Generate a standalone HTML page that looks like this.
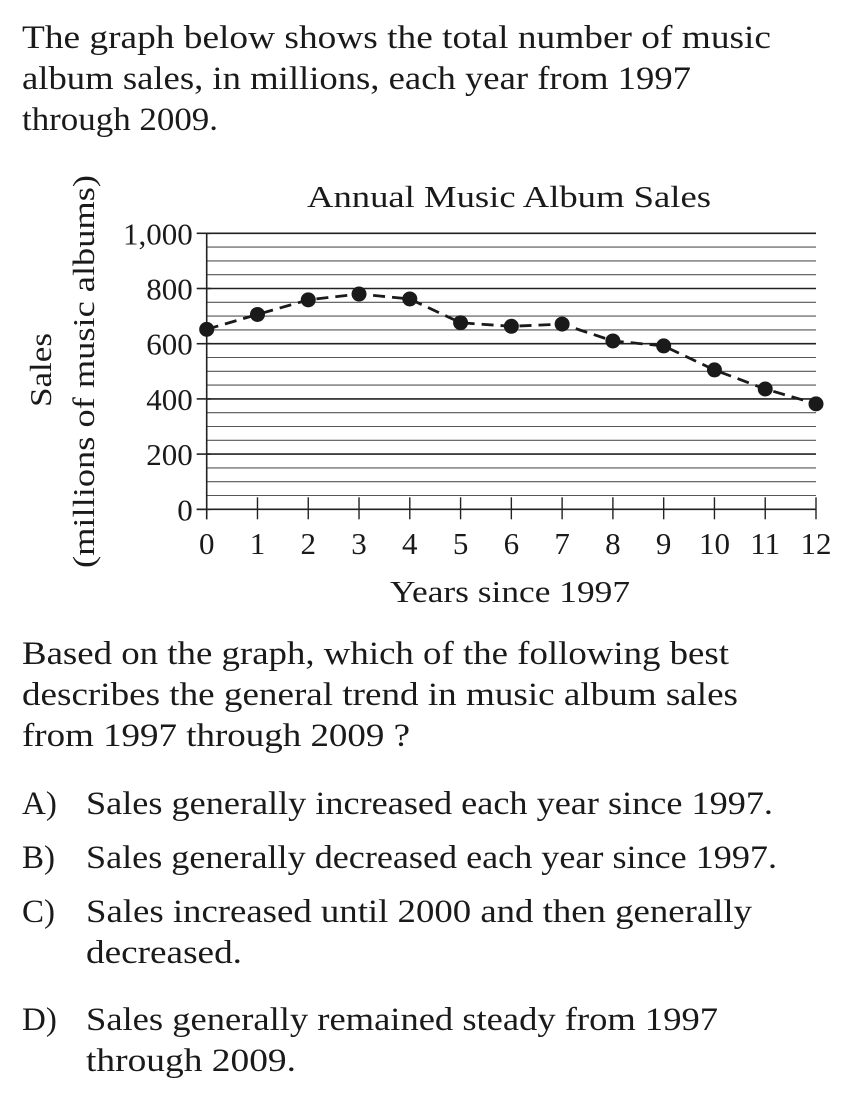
<!DOCTYPE html>
<html><head><meta charset="utf-8"><style>
body{margin:0;background:#fff;}
svg{display:block;font-family:"Liberation Serif",serif;fill:#1a1a1a;}
</style></head><body>
<svg id="page" width="852" height="1114" viewBox="0 0 852 1114" xmlns="http://www.w3.org/2000/svg">
<g font-size="33">
<text x="22" y="48" textLength="749" lengthAdjust="spacingAndGlyphs">The graph below shows the total number of music</text>
<text x="22" y="89" textLength="669" lengthAdjust="spacingAndGlyphs">album sales, in millions, each year from 1997</text>
<text x="22" y="130" textLength="196" lengthAdjust="spacingAndGlyphs">through 2009.</text>
</g>
<text x="307" y="207" font-size="31" textLength="404" lengthAdjust="spacingAndGlyphs">Annual Music Album Sales</text>
<text transform="translate(51,407) rotate(-90)" font-size="31" textLength="74" lengthAdjust="spacingAndGlyphs">Sales</text>
<text transform="translate(94,568) rotate(-90)" font-size="31" textLength="393" lengthAdjust="spacingAndGlyphs">(millions of music albums)</text>
<text x="390" y="602" font-size="31" textLength="240" lengthAdjust="spacingAndGlyphs">Years since 1997</text>
<g id="grid"></g>
<g id="axes"></g>
<g id="series"></g>
<g font-size="33">
<text x="22" y="664" textLength="707" lengthAdjust="spacingAndGlyphs">Based on the graph, which of the following best</text>
<text x="22" y="705" textLength="716" lengthAdjust="spacingAndGlyphs">describes the general trend in music album sales</text>
<text x="22" y="746" textLength="388" lengthAdjust="spacingAndGlyphs">from 1997 through 2009 ?</text>
</g>
<g font-size="33">
<g><text x="22" y="814">A)</text><text x="86" y="814" textLength="687" lengthAdjust="spacingAndGlyphs">Sales generally increased each year since 1997.</text></g>
<g><text x="22" y="868">B)</text><text x="86" y="868" textLength="691" lengthAdjust="spacingAndGlyphs">Sales generally decreased each year since 1997.</text></g>
<g><text x="22" y="922">C)</text><text x="86" y="922" textLength="666" lengthAdjust="spacingAndGlyphs">Sales increased until 2000 and then generally</text><text x="86" y="963" textLength="156" lengthAdjust="spacingAndGlyphs">decreased.</text></g>
<g><text x="22" y="1030">D)</text><text x="86" y="1030" textLength="632" lengthAdjust="spacingAndGlyphs">Sales generally remained steady from 1997</text><text x="86" y="1071" textLength="210" lengthAdjust="spacingAndGlyphs">through 2009.</text></g>
</g>
</svg>
<script>
const years = [0,1,2,3,4,5,6,7,8,9,10,11,12];
const sales = [652,706,759,780,762,676,663,671,610,592,505,436,382];
const yTicks = [0,200,400,600,800,1000];
const yTickLabels = ["0","200","400","600","800","1,000"];
const NS="http://www.w3.org/2000/svg";
const X0=206.7,X1=816,Y0=509.3,Y1=233.3;
const xs=v=>X0+(X1-X0)*v/12;
const ys=v=>Y0-(Y0-Y1)*v/1000;
function mk(tag,attrs,parent){const e=document.createElementNS(NS,tag);for(const k in attrs)e.setAttribute(k,attrs[k]);parent.appendChild(e);return e;}
const grid=document.getElementById('grid'),axes=document.getElementById('axes'),series=document.getElementById('series');
for(let v=50;v<=1000;v+=50){
  const major=v%200===0;
  const l=mk('line',{x1:X0,x2:X1,y1:ys(v),y2:ys(v),stroke:major?'#222':'#555','stroke-width':major?1.6:1.1},grid);
  
  
}
let a=mk('line',{x1:X0,x2:X0,y1:Y1,y2:Y0+10,stroke:'#222','stroke-width':1.6},axes);


a=mk('line',{x1:X0-10,x2:X1,y1:Y0,y2:Y0,stroke:'#222','stroke-width':1.6},axes);


yTicks.forEach((v,i)=>{
  const t=mk('line',{x1:X0-10,x2:X0+4,y1:ys(v),y2:ys(v),stroke:'#222','stroke-width':1.6},axes);
  
  
  const tx=mk('text',{x:X0-14,y:ys(v)+11,'font-size':31,'text-anchor':'end'},axes);
  tx.textContent=yTickLabels[i];
  
  
});
years.forEach(v=>{
  const t=mk('line',{x1:xs(v),x2:xs(v),y1:Y0-12,y2:Y0+10,stroke:'#222','stroke-width':1.4},axes);
  
  
  const tx=mk('text',{x:xs(v),y:554,'font-size':31,'text-anchor':'middle'},axes);
  tx.textContent=String(v);
  
  
});
const pts=years.map((v,i)=>xs(v)+','+ys(sales[i])).join(' ');
const pl=mk('polyline',{points:pts,fill:'none',stroke:'#1a1a1a','stroke-width':2.8,'stroke-dasharray':'12,7'},series);


years.forEach((v,i)=>{
  const c=mk('circle',{cx:xs(v),cy:ys(sales[i]),r:7.5,fill:'#1a1a1a'},series);
  
  
});
</script>
</body></html>
